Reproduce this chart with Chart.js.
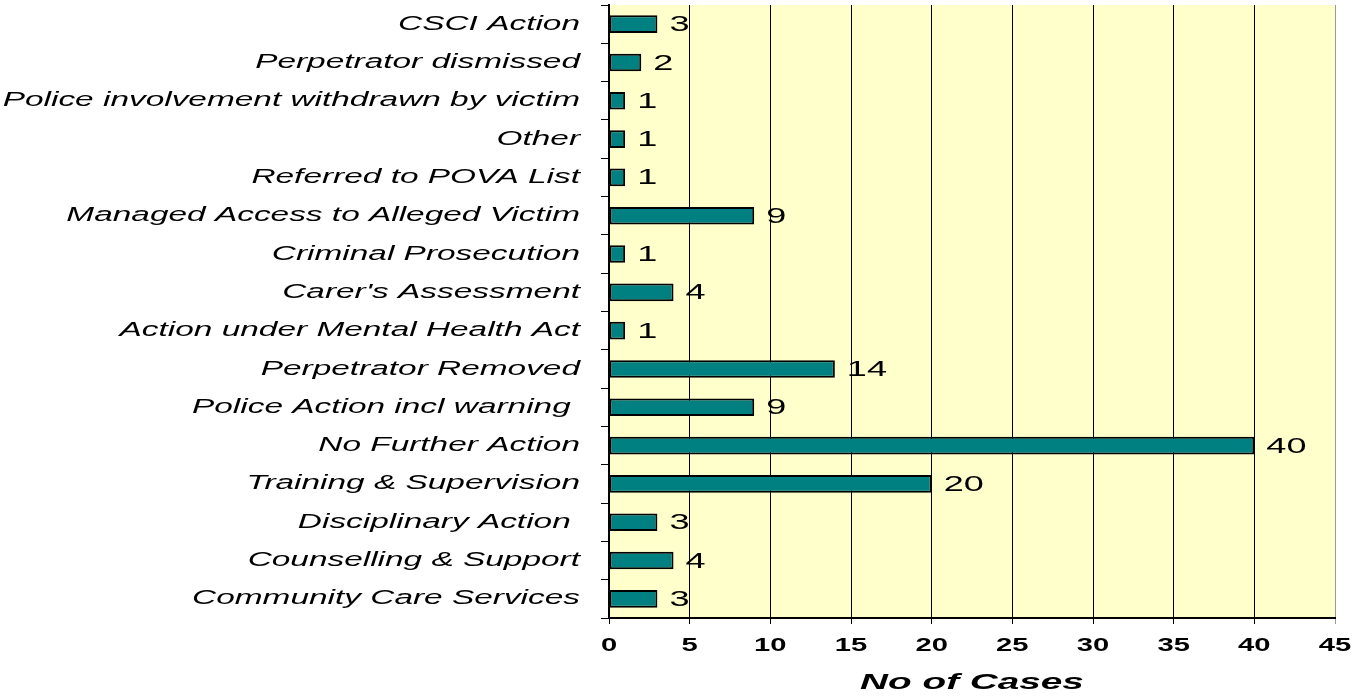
<!DOCTYPE html>
<html lang="en">
<head>
    <meta charset="UTF-8">
    <title>Outcomes</title>
    <script src="https://cdn.jsdelivr.net/npm/chart.js"></script>
    <style>
        html, body { margin: 0; padding: 0; background: #ffffff; }
        #wrap { width: 1369px; height: 697px; }
    </style>
</head>
<body>
    <div id="wrap"><canvas id="outcomeChart"></canvas></div>
    <script>
        const categories = [
            'CSCI Action',
            'Perpetrator dismissed',
            'Police involvement withdrawn by victim',
            'Other',
            'Referred to POVA List',
            'Managed Access to Alleged Victim',
            'Criminal Prosecution',
            "Carer's Assessment",
            'Action under Mental Health Act',
            'Perpetrator Removed',
            'Police Action incl warning ',
            'No Further Action',
            'Training & Supervision',
            'Disciplinary Action ',
            'Counselling & Support',
            'Community Care Services'
        ];
        const cases = [3, 2, 1, 1, 1, 9, 1, 4, 1, 14, 9, 40, 20, 3, 4, 3];
        const xTicks = [0, 5, 10, 15, 20, 25, 30, 35, 40, 45];
        const axisTitle = 'No of Cases';

        const FONT = '"Liberation Sans", Arial, sans-serif';

        // the original text is drawn wide, so stretch it horizontally
        function wideText(c, text, x, y, align, sx) {
            c.save();
            c.translate(x, y);
            c.scale(sx, 1);
            c.textAlign = align;
            c.textBaseline = 'middle';
            c.fillText(text, 0, 0);
            c.restore();
        }

        // yellow plot background
        const plotBackground = {
            id: 'plotBackground',
            beforeDraw(chart) {
                const a = chart.chartArea;
                const c = chart.ctx;
                c.save();
                c.fillStyle = '#FFFFCC';
                c.fillRect(a.left, a.top, a.right - a.left, a.bottom - a.top);
                c.restore();
            }
        };

        // axis labels, title and bar values
        const textLayer = {
            id: 'textLayer',
            afterDraw(chart) {
                const c = chart.ctx;
                const xs = chart.scales.x;
                const ys = chart.scales.y;
                c.save();
                c.fillStyle = '#000000';

                c.font = 'italic 20px ' + FONT;
                categories.forEach((label, i) => {
                    wideText(c, label, ys.right - 29, ys.getPixelForTick(i), 'right', 1.67);
                });

                c.font = 'bold 18px ' + FONT;
                xTicks.forEach(v => {
                    wideText(c, String(v), xs.getPixelForValue(v), 646, 'center', 1.62);
                });

                c.font = 'italic bold 22px ' + FONT;
                wideText(c, axisTitle, (chart.chartArea.left + chart.chartArea.right) / 2, 683, 'center', 1.76);

                c.font = '22px ' + FONT;
                chart.getDatasetMeta(0).data.forEach((bar, i) => {
                    wideText(c, String(cases[i]), bar.x + 12, bar.y + 1, 'left', 1.64);
                });
                c.restore();
            }
        };

        new Chart(document.getElementById('outcomeChart'), {
            type: 'bar',
            data: {
                labels: categories,
                datasets: [{
                    data: cases,
                    backgroundColor: '#008080',
                    borderColor: '#000000',
                    borderWidth: 2,
                    borderSkipped: false,
                    barPercentage: 0.46,
                    categoryPercentage: 1.0
                }]
            },
            options: {
                indexAxis: 'y',
                responsive: true,
                maintainAspectRatio: false,
                animation: false,
                layout: { padding: { top: 5, right: 34, left: 0, bottom: 0 } },
                plugins: {
                    legend: { display: false },
                    tooltip: { enabled: false }
                },
                scales: {
                    x: {
                        min: 0,
                        max: 45,
                        afterBuildTicks(scale) {
                            scale.ticks = xTicks.map(v => ({ value: v }));
                        },
                        afterFit(scale) {
                            scale.height = 79;
                            scale.paddingLeft = 0;
                            scale.paddingRight = 0;
                        },
                        grid: {
                            color: ctx => (ctx.tick && ctx.tick.value === 45) ? '#999999' : '#000000',
                            lineWidth: 1,
                            tickLength: 6,
                            drawOnChartArea: true
                        },
                        border: { color: '#000000', width: 2 },
                        ticks: { display: false }
                    },
                    y: {
                        afterFit(scale) {
                            scale.width = 609;
                            scale.paddingTop = 0;
                            scale.paddingBottom = 0;
                        },
                        grid: {
                            drawOnChartArea: false,
                            drawTicks: true,
                            tickLength: 8,
                            offset: true,
                            color: '#000000'
                        },
                        border: { color: '#000000', width: 2 },
                        ticks: { display: false, autoSkip: false }
                    }
                }
            },
            plugins: [plotBackground, textLayer]
        });
    </script>
</body>
</html>
